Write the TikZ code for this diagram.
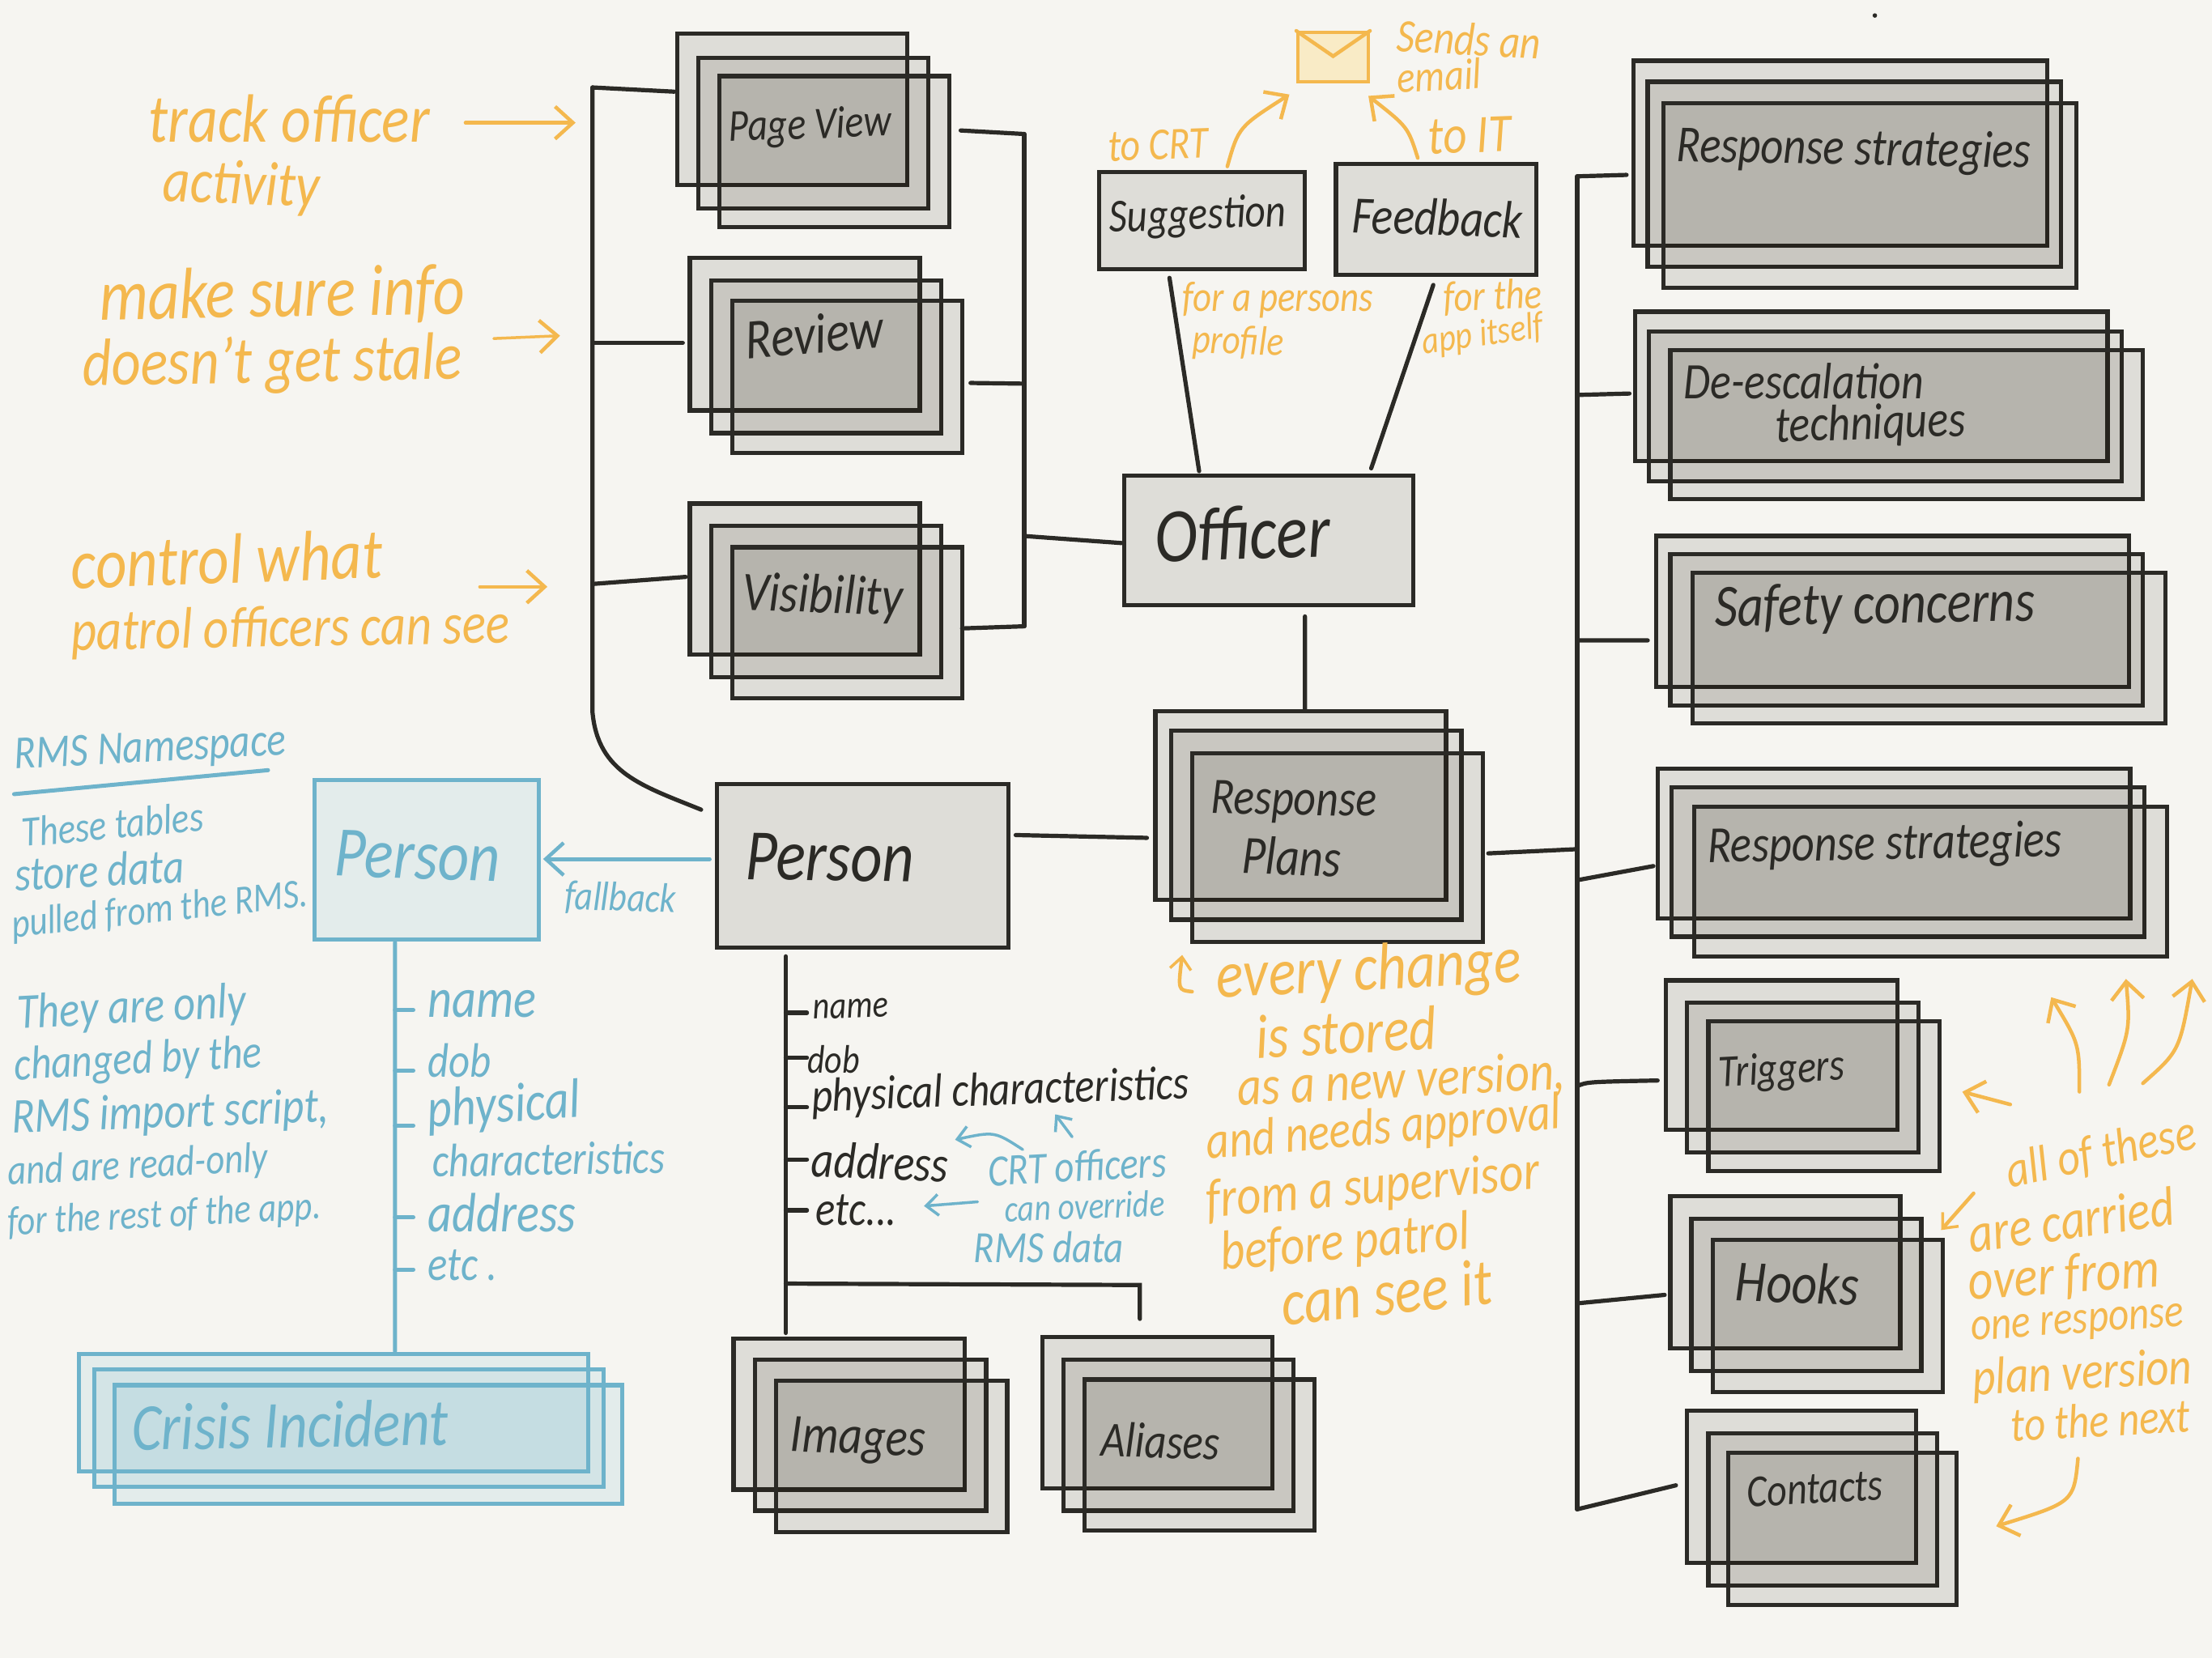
\documentclass[tikz,border=0pt]{standalone}
\usepackage{fontspec}
\setmainfont{Carlito}[FakeStretch=0.85]
\usetikzlibrary{arrows.meta,calc}
\definecolor{paper}{HTML}{F6F5F1}
\definecolor{ink}{HTML}{2B2A26}
\definecolor{sky}{HTML}{6EB3CB}
\definecolor{amber}{HTML}{F4B84E}
\definecolor{envfill}{HTML}{F9EBC6}
\definecolor{shade}{HTML}{1A1405}
\tikzset{
  graybox/.style={draw=ink,line width=0.052cm,fill=shade,fill opacity=0.105,draw opacity=1,text opacity=1,inner sep=0pt,outer sep=0pt},
  bluebox/.style={draw=sky,line width=0.052cm,fill=sky,fill opacity=0.135,draw opacity=1,text opacity=1,inner sep=0pt,outer sep=0pt},
  inkline/.style={draw=ink,line width=0.052cm,line cap=round},
  skyline/.style={draw=sky,line width=0.05cm,line cap=round},
  ambline/.style={draw=amber,line width=0.045cm,line cap=round},
  barb/.style={-{Straight Barb[length=2.2mm,width=4mm,line width=0.045cm]}},
  smallbarb/.style={-{Straight Barb[length=1.5mm,width=2.6mm,line width=0.035cm]}},
  tk/.style={text=ink}, tb/.style={text=sky}, ta/.style={text=amber}
}
% one box from corners
\newcommand\bx[6]{\node[#1,minimum width={((#5)-(#3))*0.017423cm},minimum height={((#6)-(#4))*0.017423cm}] (#2) at ({((#3)+(#5))/2},{((#4)+(#6))/2}) {};}
% stack of three: name x y w h dx2 dy2 dx3 dy3
\newcommand\stk[9]{%
  \bx{graybox}{#1-a}{#2}{#3}{#2+#4}{#3+#5}
  \bx{graybox}{#1-b}{#2+#6}{#3+#7}{#2+#4+#6}{#3+#5+#7}
  \bx{graybox}{#1-c}{#2+#8}{#3+#9}{#2+#4+#8}{#3+#5+#9}}
\newcommand\lab[7]{\node[#6,anchor=west,inner sep=0pt,rotate=#4,font=\fontsize{#5}{#5}\selectfont\itshape] (#1) at (#2,#3) {#7};}
\begin{document}
\begin{tikzpicture}[x=0.017423cm,y=-0.017423cm]
\useasboundingbox (0,0) rectangle (1568,1175.4);
\fill[paper] (0,0) rectangle (1568,1175.4);
\fill[ink] (1329,11) circle (1.6);

% ---- stacks
\stk{pv}{480}{24}{163}{107}{15}{17}{30}{30}
\stk{rv}{489}{183}{163}{108}{15}{16}{30}{30}
\stk{vs}{489}{357}{163}{107}{15}{16}{30}{31}
\stk{rp}{819}{504}{206}{134}{11}{14}{26}{30}
\stk{rsa}{1158}{43}{293}{131}{10}{15}{21}{30}
\stk{de}{1159}{221}{335}{106}{10}{14}{25}{27}
\stk{sc}{1174}{380}{335}{107}{10}{13}{26}{26}
\stk{rsb}{1175}{545}{335}{106}{10}{13}{26}{27}
\stk{tr}{1181}{695}{164}{106}{15}{16}{30}{29}
\stk{hk}{1184}{848}{163}{108}{15}{16}{30}{31}
\stk{ct}{1196}{1000}{162}{108}{15}{16}{29}{30}
\stk{im}{520}{949}{164}{107}{15}{15}{30}{30}
\stk{al}{739}{948}{163}{107}{15}{16}{30}{30}
\bx{graybox}{sug}{779}{122}{925}{191}
\bx{graybox}{fb}{947}{116}{1089}{195}
\bx{graybox}{off}{797}{337}{1002}{429}
\bx{graybox}{per}{508}{556}{715}{672}
% blue boxes
\bx{bluebox}{rper}{223}{553}{382}{666}
\bx{bluebox}{ci-a}{56}{960}{417}{1043}
\bx{bluebox}{ci-b}{67}{971}{428}{1054}
\bx{bluebox}{ci-c}{81}{982}{441}{1066}
% envelope
\node[draw=amber,fill=envfill,line width=0.04cm,inner sep=0pt,minimum width={50*0.017423cm},minimum height={35*0.017423cm}] (env) at (945,40.5) {};
\draw[ambline] (env.north west) -- ([yshift={-18*0.017423cm}]env.north) -- (env.north east);

% ---- black connectors
\coordinate (la) at (420,62);
\coordinate (lb) at (420,243);
\coordinate (lc) at (420,414);
\coordinate (ld) at (420,505);
\draw[inkline] (la) -- (lb) -- (lc) -- (ld) .. controls (424,548) and (455,557) .. ([shift={(-11,-40)}]per.west);
\draw[inkline] (la) -- ([shift={(-2,-12.5)}]pv-a.west);
\draw[inkline] (lb) -- ([shift={(-5,6)}]rv-a.west);
\draw[inkline] (lc) -- ([shift={(-3,-1.5)}]vs-a.west);
\coordinate (ma) at (726,95);
\coordinate (mb) at (726,272);
\coordinate (mc) at (726,380);
\coordinate (md) at (726,444);
\draw[inkline] (ma) -- (mb) -- (mc) -- (md);
\draw[inkline] (ma) -- ([shift={(8,-15)}]pv-c.east);
\draw[inkline] (mb) -- ([shift={(6,4.5)}]rv-c.east);
\draw[inkline] (md) -- ([shift={(0,4)}]vs-c.east);
\draw[inkline] (mc) -- ([shift={(-2,2)}]off.west);
\draw[inkline] ([shift={(-23,6)}]sug.south) -- ([shift={(-49.5,-3)}]off.north);
\draw[inkline] ([shift={(-2,7)}]fb.south) -- ([shift={(72.5,-5)}]off.north);
\draw[inkline] ([shift={(25.5,8)}]off.south) -- ([shift={(3,-1)}]rp-a.north);
\draw[inkline] ([shift={(5,-22)}]per.east) -- ([shift={(-6,23)}]rp-a.west);
\coordinate (ra) at (1118,125);
\coordinate (rb) at (1118,280);
\coordinate (rc) at (1118,454);
\coordinate (rd) at (1118,602);
\coordinate (re) at (1118,624);
\coordinate (rf) at (1118,770);
\coordinate (rg) at (1118,924);
\coordinate (rh) at (1118,1070);
\draw[inkline] (ra) -- (rh);
\draw[inkline] ([shift={(4,4)}]rp-c.east) -- (rd);
\draw[inkline] (ra) -- ([shift={(-5,15.5)}]rsa-a.west);
\draw[inkline] (rb) -- ([shift={(-4,5)}]de-a.west);
\draw[inkline] (rc) -- ([shift={(-6,20.5)}]sc-a.west);
\draw[inkline] (re) -- ([shift={(-3,16)}]rsb-a.west);
\draw[inkline] (rf) .. controls (1125,767) .. ([shift={(-6,18)}]tr-a.west);
\draw[inkline] (rg) -- ([shift={(-4,16)}]hk-a.west);
\draw[inkline] (rh) -- ([shift={(-8,-1)}]ct-a.west);
% person attributes tree
\coordinate (pb) at (557,910);
\draw[inkline] ([shift={(-54.5,6)}]per.south) -- (pb) -- ([shift={(-45,-4)}]im-a.north);
\draw[inkline] (pb) -- (808,911) -- ([shift={(-12.5,-13)}]al-a.north);
\foreach \yy/\nn in {718/ta,750/tb,785/tc,822/td,858/te} {
  \coordinate (\nn) at (557,\yy);
  \draw[inkline] (\nn) -- ++(15,0);
}

% ---- blue connectors
\draw[skyline] ([shift={(-22.5,2)}]rper.south) -- ([shift={(43.5,-2)}]ci-a.north);
\foreach \yy/\nn in {716/ba,759/bb,798/bc,863/bd,900/be} {
  \coordinate (\nn) at (280,\yy);
  \draw[skyline] (\nn) -- ++(13,0);
}
\draw[skyline,barb] ([shift={(-5,-5)}]per.west) -- ([shift={(3,-0.5)}]rper.east);
\coordinate (ul1) at (10,563);
\coordinate (ul2) at (190,546);
\draw[skyline] (ul1) -- (ul2);
\coordinate (oa) at (725,815); \coordinate (ob) at (677,808);
\draw[skyline,smallbarb,line width=0.035cm] (oa) .. controls (705,802) .. (ob);
\coordinate (oc) at (760,806); \coordinate (od) at (748,790);
\draw[skyline,smallbarb,line width=0.035cm] (oc) -- (od);
\coordinate (oe) at (693,852); \coordinate (of) at (655,855);
\draw[skyline,smallbarb,line width=0.035cm] (oe) -- (of);

% ---- amber arrows
\coordinate (a1) at (330,87); \coordinate (a2) at (408,87);
\draw[ambline,barb] (a1) -- (a2);
\coordinate (a3) at (350,240); \coordinate (a4) at (397,238);
\draw[ambline,barb,line width=0.035cm] (a3) -- (a4);
\coordinate (a5) at (340,416); \coordinate (a6) at (388,416);
\draw[ambline,barb,line width=0.035cm] (a5) -- (a6);
\coordinate (a7) at (870,118); \coordinate (a8) at (914,67);
\draw[ambline,barb] (a7) .. controls (878,90) .. (a8);
\coordinate (a9) at (1005,112); \coordinate (a10) at (970,68);
\draw[ambline,barb] (a9) .. controls (998,90) .. (a10);
\coordinate (a11) at (845,703); \coordinate (a12) at (838,677);
\draw[ambline,smallbarb] (a11) .. controls (835,702) .. (a12);
\coordinate (b1) at (1474,774); \coordinate (b2) at (1454,707);
\draw[ambline,barb] (b1) .. controls (1474,740) .. (b2);
\coordinate (b3) at (1495,769); \coordinate (b4) at (1507,694);
\draw[ambline,barb] (b3) .. controls (1510,730) .. (b4);
\coordinate (b5) at (1519,768); \coordinate (b6) at (1554,694);
\draw[ambline,barb] (b5) .. controls (1545,745) .. (b6);
\coordinate (b7) at (1425,783); \coordinate (b8) at (1391,774);
\draw[ambline,barb] (b7) -- (b8);
\coordinate (b9) at (1399,846); \coordinate (b10) at (1376,872);
\draw[ambline,smallbarb] (b9) -- (b10);
\coordinate (b11) at (1473,1034); \coordinate (b12) at (1415,1082);
\draw[ambline,barb] (b11) .. controls (1470,1065) .. (b12);

% ---- texts in boxes
\lab{t1}{516}{92}{2}{16}{tk}{Page View}
\lab{t2}{528}{241}{5}{20}{tk}{Review}
\lab{t3}{526}{422}{-2}{19.5}{tk}{Visibility}
\lab{t4}{786}{156}{2}{16.5}{tk}{Suggestion}
\lab{t5}{958}{152}{-2}{18.5}{tk}{Feedback}
\lab{t6}{818}{380}{2}{27}{tk}{Officer}
\lab{t7}{528}{607}{-1}{25.5}{tk}{Person}
\lab{t8}{858}{568}{-1}{18}{tk}{Response}
\lab{t9}{880}{606}{-2}{19}{tk}{Plans}
\lab{t10}{1188}{105}{-1}{18.3}{tk}{Response strategies}
\lab{t11}{1193}{270}{0}{18}{tk}{De-escalation}
\lab{t12}{1258}{304}{2}{18}{tk}{techniques}
\lab{t13}{1215}{433}{1}{21}{tk}{Safety concerns}
\lab{t14}{1210}{602}{1}{18.3}{tk}{Response strategies}
\lab{t15}{1218}{762}{3}{16}{tk}{Triggers}
\lab{t16}{1230}{908}{-2}{20.5}{tk}{Hooks}
\lab{t17}{1238}{1058}{3}{16}{tk}{Contacts}
\lab{t18}{560}{1020}{-2}{19}{tk}{Images}
\lab{t19}{780}{1020}{-2}{17.5}{tk}{Aliases}
% black attributes
\lab{u1}{576}{716}{2}{13.5}{tk}{name}
\lab{u2}{572}{751}{0}{14}{tk}{dob}
\lab{u3}{575}{779}{2}{16.8}{tk}{physical characteristics}
\lab{u4}{575}{822}{-2}{18}{tk}{address}
\lab{u5}{578}{858}{0}{17}{tk}{etc...}
% blue texts
\lab{v1}{10}{537}{3}{16.5}{tb}{RMS Namespace}
\lab{v2}{15}{590}{5}{15}{tb}{These tables}
\lab{v3}{10}{620}{3}{17}{tb}{store data}
\lab{v4}{8}{657}{6}{14.4}{tb}{pulled from the RMS.}
\lab{v5}{12}{720}{3}{17.5}{tb}{They are only}
\lab{v6}{10}{757}{3}{16.5}{tb}{changed by the}
\lab{v7}{8}{794}{2}{17.5}{tb}{RMS import script,}
\lab{v8}{5}{832}{3}{15}{tb}{and are read-only}
\lab{v9}{5}{868}{3}{14.3}{tb}{for the rest of the app.}
\lab{v10}{237}{605}{-2}{25}{tb}{Person}
\lab{v11}{400}{636}{-2}{14.5}{tb}{fallback}
\lab{v12}{303}{712}{0}{19.5}{tb}{name}
\lab{v13}{303}{752}{0}{17}{tb}{dob}
\lab{v14}{303}{789}{4}{19.5}{tb}{physical}
\lab{v15}{306}{823}{1}{16.5}{tb}{characteristics}
\lab{v16}{303}{860}{0}{19.5}{tb}{address}
\lab{v17}{303}{897}{0}{17}{tb}{etc .}
\lab{v18}{93}{1012}{1}{23.5}{tb}{Crisis Incident}
\lab{v19}{700}{830}{3}{15.7}{tb}{CRT officers}
\lab{v20}{712}{857}{2}{13.2}{tb}{can override}
\lab{v21}{690}{884}{0}{15.7}{tb}{RMS data}
% amber texts
\lab{w1}{105}{84}{0}{24}{ta}{track officer}
\lab{w2}{115}{131}{-2}{22}{ta}{activity}
\lab{w3}{70}{212}{1}{25.5}{ta}{make sure info}
\lab{w4}{58}{261}{1}{23.5}{ta}{doesn't get stale}
\lab{w5}{50}{400}{2}{25}{ta}{control what}
\lab{w6}{50}{450}{1}{20.5}{ta}{patrol officers can see}
\lab{w7}{990}{25}{-3}{16.5}{ta}{Sends an}
\lab{w8}{990}{55}{3}{15.5}{ta}{email}
\lab{w9}{785}{104}{2}{16}{ta}{to CRT}
\lab{w10}{1012}{97}{2}{19}{ta}{to IT}
\lab{w11}{838}{213}{0}{15}{ta}{for a persons}
\lab{w12}{845}{242}{-2}{14.5}{ta}{profile}
\lab{w13}{1023}{212}{2}{15}{ta}{for the}
\lab{w14}{1008}{244}{8}{13.5}{ta}{app itself}
\lab{w15}{862}{695}{3}{23.5}{ta}{every change}
\lab{w16}{890}{735}{3}{22}{ta}{is stored}
\lab{w17}{877}{773}{3}{19.5}{ta}{as a new version,}
\lab{w18}{855}{812}{5}{18.5}{ta}{and needs approval}
\lab{w19}{855}{853}{5}{19.5}{ta}{from a supervisor}
\lab{w20}{865}{890}{5}{19.5}{ta}{before patrol}
\lab{w21}{908}{924}{6}{23}{ta}{can see it}
\lab{w22}{1422}{832}{12}{18}{ta}{all of these}
\lab{w23}{1395}{875}{8}{19.5}{ta}{are carried}
\lab{w24}{1395}{910}{4}{20}{ta}{over from}
\lab{w25}{1397}{945}{4}{16.5}{ta}{one response}
\lab{w26}{1398}{979}{3}{18.5}{ta}{plan version}
\lab{w27}{1425}{1010}{3}{17}{ta}{to the next}
\end{tikzpicture}
\end{document}
